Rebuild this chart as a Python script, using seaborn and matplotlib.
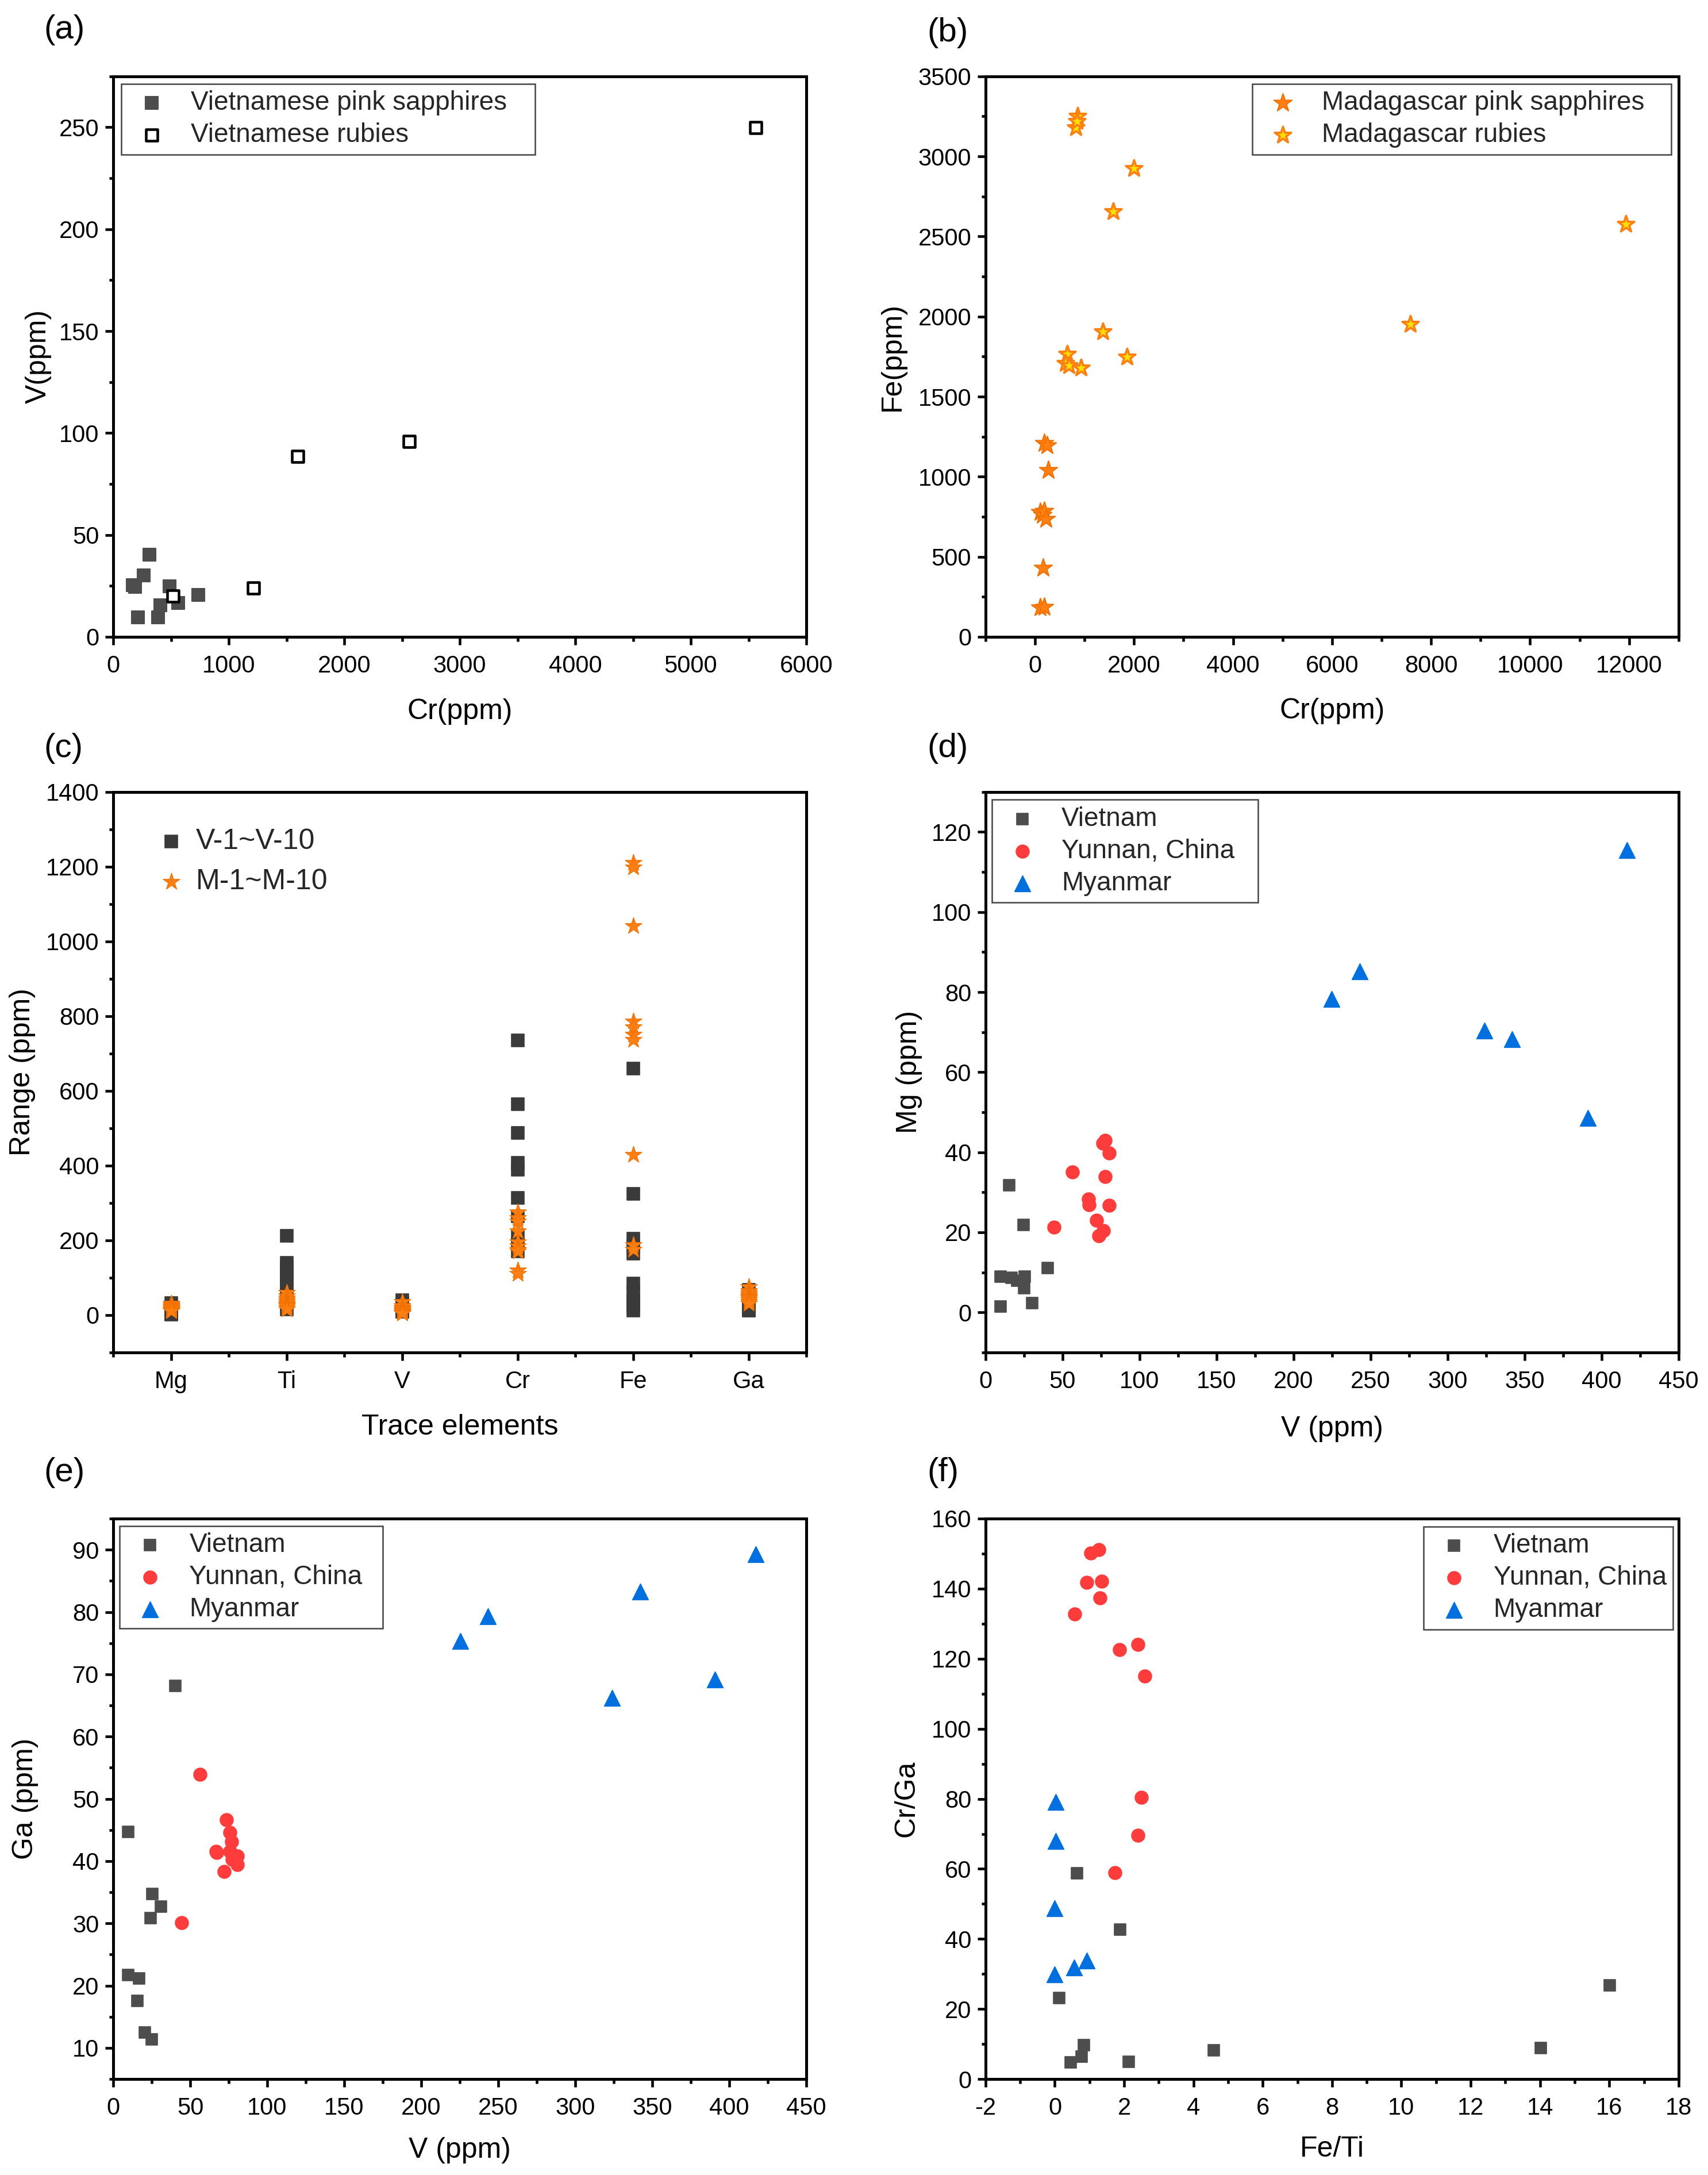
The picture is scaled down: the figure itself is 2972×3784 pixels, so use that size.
import matplotlib.pyplot as plt
import pandas as pd
import seaborn as sns
from matplotlib.ticker import MultipleLocator

# (a) Vietnamese samples: Cr vs V
a_pink_cr = [171, 190, 313, 265, 488, 213, 389, 408, 564, 735]
a_pink_v = [25.5, 24.5, 40.4, 30.3, 24.9, 9.6, 9.6, 15.5, 16.7, 20.5]
a_ruby_cr = [517, 1213, 1597, 2564, 5564]
a_ruby_v = [20.1, 24.0, 88.5, 95.8, 249.8]

# (b) Madagascar samples: Cr vs Fe
b_pink_cr = [110, 188, 166, 110, 150, 188, 221, 265, 188, 243]
b_pink_fe = [183, 188, 429, 780, 760, 786, 736, 1041, 1209, 1195]
b_ruby_cr = [862, 829, 851, 2000, 1580, 11934, 7580, 1370, 1856, 652, 620, 685, 928]
b_ruby_fe = [3250, 3181, 3221, 2925, 2656, 2578, 1951, 1905, 1748, 1766, 1708, 1693, 1679]

# (c) trace element ranges
elements = ["Mg", "Ti", "V", "Cr", "Fe", "Ga"]
c_vn = [
    [1.4, 2.4, 6.1, 8.9, 8.7, 8.0, 8.9, 11.1, 21.9, 31.7],
    [212, 140, 128, 115, 100, 85, 70, 50, 30, 15],
    [9.6, 9.6, 15.5, 16.7, 20.5, 24.5, 24.9, 25.5, 30.3, 40.4],
    [735, 564, 488, 408, 389, 313, 265, 213, 190, 171],
    [660, 325, 205, 185, 165, 85, 60, 40, 25, 12],
    [68.1, 44.7, 34.7, 32.7, 30.9, 21.7, 21.2, 17.6, 12.5, 11.4],
]
c_mg = [
    [30, 28, 25, 22, 20, 18, 15, 14, 12, 10],
    [60, 50, 45, 40, 35, 30, 28, 25, 20, 15],
    [35, 25, 20, 18, 15, 12, 10, 8, 6, 5],
    [275, 260, 250, 225, 195, 185, 175, 170, 120, 110],
    [1210, 1198, 1041, 786, 770, 750, 736, 429, 188, 175],
    [75, 65, 60, 55, 50, 48, 45, 40, 35, 30],
]

# (d) V vs Mg
d_vn_v = [9.6, 30.3, 24.9, 9.6, 16.7, 20.5, 25.5, 40.4, 24.5, 15.5]
d_vn_mg = [1.4, 2.4, 6.1, 8.9, 8.7, 8.0, 8.9, 11.1, 21.9, 31.7]
d_yn_v = [44.4, 56.5, 66.8, 67.1, 72.1, 73.5, 76.7, 76.3, 77.5, 77.8, 80.3, 80.3]
d_yn_mg = [21.3, 35.0, 28.3, 26.9, 23.0, 19.2, 20.4, 42.2, 43.0, 33.9, 39.8, 26.7]
d_mm_v = [224.8, 242.9, 323.9, 342.0, 391.0, 416.5]
d_mm_mg = [78.3, 85.2, 70.4, 68.3, 48.5, 115.4]

# (e) V vs Ga
e_vn_v = [9.6, 40.1, 25.2, 30.9, 24.1, 9.6, 16.7, 15.6, 20.6, 24.8]
e_vn_ga = [44.7, 68.1, 34.7, 32.7, 30.9, 21.7, 21.2, 17.6, 12.5, 11.4]
e_yn_v = [44.4, 56.4, 66.7, 67.1, 72.0, 73.5, 75.9, 77.0, 75.9, 77.4, 80.6, 80.6]
e_yn_ga = [30.1, 53.9, 41.6, 41.4, 38.3, 46.6, 44.6, 43.1, 41.6, 40.3, 40.8, 39.4]
e_mm_v = [225.3, 243.1, 324.0, 342.1, 390.7, 417.0]
e_mm_ga = [75.3, 79.3, 66.2, 83.3, 69.2, 89.3]

# (f) Fe/Ti vs Cr/Ga
f_vn_feti = [0.13, 0.46, 0.78, 0.84, 0.64, 1.89, 2.14, 4.59, 14.02, 16.01]
f_vn_crga = [23.2, 4.8, 6.4, 9.7, 58.8, 42.6, 4.9, 8.2, 8.8, 26.7]
f_yn_feti = [0.57, 0.92, 1.03, 1.27, 1.35, 1.30, 1.87, 2.39, 2.60, 2.50, 2.39, 1.73]
f_yn_crga = [132.8, 141.8, 150.2, 151.2, 142.1, 137.3, 122.6, 124.0, 115.1, 80.5, 69.6, 59.0]
f_mm_feti = [0.02, 0.02, 0.0, 0.0, 0.56, 0.92]
f_mm_crga = [79.1, 67.9, 48.7, 29.9, 31.9, 33.9]

DARK = "#4d4d4d"
RED = "#ff3c3c"
BLUE = "#0070e0"
ORANGE = "#ff8012"
YELLOW = "#ffe100"

sns.set_theme(style="ticks", context="paper")
plt.rcParams["font.family"] = ["Liberation Sans", "DejaVu Sans"]
plt.rcParams["axes.unicode_minus"] = False


def style_axis(ax, xlim, ylim, xmaj, xmin, ymaj, ymin):
    ax.set_xlim(*xlim)
    ax.set_ylim(*ylim)
    if xmaj is not None:
        ax.xaxis.set_major_locator(MultipleLocator(xmaj))
        ax.xaxis.set_minor_locator(MultipleLocator(xmin))
    ax.yaxis.set_major_locator(MultipleLocator(ymaj))
    ax.yaxis.set_minor_locator(MultipleLocator(ymin))
    ax.tick_params(which="both", direction="out", top=False, right=False,
                   width=1.1, colors="black", labelsize=10)
    ax.tick_params(which="major", length=3.4, pad=2.5)
    ax.tick_params(axis="x", which="major", pad=4)
    ax.tick_params(which="minor", length=1.8)
    for sp in ax.spines.values():
        sp.set_visible(True)
        sp.set_linewidth(1.2)
        sp.set_color("black")


def set_labels(ax, xlabel, ylabel, ycoord, xcoord):
    ax.set_xlabel(xlabel, fontsize=12, color="black")
    ax.set_ylabel(ylabel, fontsize=12, color="black")
    ax.xaxis.set_label_coords(0.5, xcoord)
    ax.yaxis.set_label_coords(ycoord, 0.5)


def add_legend(ax, anchor, loc="upper left", handles=None, labels=None, fontsize=11,
               frame=True, **kw):
    opts = dict(loc=loc, bbox_to_anchor=anchor, borderaxespad=0, fontsize=fontsize,
                frameon=frame, fancybox=False, framealpha=1, edgecolor="#444444",
                borderpad=0.25, labelspacing=0.26, handlelength=1.8, handletextpad=0.6)
    if len(anchor) == 4:
        opts["mode"] = "expand"
    opts.update(kw)
    if handles is not None:
        leg = ax.legend(handles, labels, **opts)
    else:
        leg = ax.legend(**opts)
    leg.get_frame().set_linewidth(0.6)
    return leg


fig = plt.figure(figsize=(2972 / 300, 3784 / 300), dpi=300)
col_x = [0.0663, 0.5770]
row_y = [0.7072, 0.3782, 0.0441]
aw, ah = 0.4058, 0.2577

ax_a = fig.add_axes([col_x[0], row_y[0], aw, ah])
ax_b = fig.add_axes([col_x[1], row_y[0], aw, ah])
ax_c = fig.add_axes([col_x[0], row_y[1], aw, ah])
ax_d = fig.add_axes([col_x[1], row_y[1], aw, ah])
ax_e = fig.add_axes([col_x[0], row_y[2], aw, ah])
ax_f = fig.add_axes([col_x[1], row_y[2], aw, ah])

# (a)
sns.scatterplot(x=a_pink_cr, y=a_pink_v, marker="s", s=27, color=DARK,
                edgecolor=DARK, linewidth=0.5, label="Vietnamese pink sapphires", ax=ax_a)
sns.scatterplot(x=a_ruby_cr, y=a_ruby_v, marker="s", s=22, color="white",
                edgecolor="black", linewidth=1.1, label="Vietnamese rubies", ax=ax_a)
style_axis(ax_a, (0, 6000), (0, 275), 1000, 500, 50, 25)
set_labels(ax_a, "Cr(ppm)", "V(ppm)", -0.089, -0.11)
add_legend(ax_a, (0.0116, 0.9867, 0.597, 0))

# (b)
sns.scatterplot(x=b_pink_cr, y=b_pink_fe, marker="*", s=62, color=ORANGE,
                edgecolor="#f07000", linewidth=0.5, label="Madagascar pink sapphires", ax=ax_b)
sns.scatterplot(x=b_ruby_cr, y=b_ruby_fe, marker="*", s=52, color=YELLOW,
                edgecolor=ORANGE, linewidth=0.9, label="Madagascar rubies", ax=ax_b)
style_axis(ax_b, (-1000, 13000), (0, 3500), 2000, 1000, 500, 250)
set_labels(ax_b, "Cr(ppm)", "Fe(ppm)", -0.115, -0.109)
add_legend(ax_b, (0.3847, 0.9867, 0.6045, 0))

# (c)
df_vn = pd.DataFrame({"element": [e for e, vals in zip(elements, c_vn) for _ in vals],
                      "range": [v for vals in c_vn for v in vals]})
df_mg = pd.DataFrame({"element": [e for e, vals in zip(elements, c_mg) for _ in vals],
                      "range": [v for vals in c_mg for v in vals]})
sns.stripplot(data=df_vn, x="element", y="range", order=elements, jitter=False,
              marker="s", size=5.2, color="#3a3a3a", edgecolor="#3a3a3a", linewidth=0.4,
              label="V-1~V-10", ax=ax_c)
sns.stripplot(data=df_mg, x="element", y="range", order=elements, jitter=False,
              marker="*", size=7.3, color=ORANGE, edgecolor="#f07000", linewidth=0.3,
              label="M-1~M-10", ax=ax_c)
style_axis(ax_c, (-0.5, 5.5), (-100, 1400), None, None, 200, 100)
ax_c.set_xticks(range(len(elements)))
ax_c.set_xticklabels(elements)
ax_c.set_xticks([i - 0.5 for i in range(len(elements) + 1)], minor=True)
set_labels(ax_c, "Trace elements", "Range (ppm)", -0.112, -0.11)
h, l = ax_c.get_legend_handles_labels()
uniq = dict(zip(l, h))
add_legend(ax_c, (0.0547, 0.945), handles=list(uniq.values()),
           labels=list(uniq.keys()), fontsize=12, frame=False,
           borderpad=0.2, labelspacing=0.48, handlelength=1.0, handletextpad=0.36)

# (d), (e), (f)
groups = ["Vietnam", "Yunnan, China", "Myanmar"]
markers = ["s", "o", "^"]
sizes = [25, 30, 44]
colors = [DARK, RED, BLUE]
panels = [
    (ax_d, [(d_vn_v, d_vn_mg), (d_yn_v, d_yn_mg), (d_mm_v, d_mm_mg)]),
    (ax_e, [(e_vn_v, e_vn_ga), (e_yn_v, e_yn_ga), (e_mm_v, e_mm_ga)]),
    (ax_f, [(f_vn_feti, f_vn_crga), (f_yn_feti, f_yn_crga), (f_mm_feti, f_mm_crga)]),
]
for ax, series in panels:
    for (xs, ys), name, mk, sz, col in zip(series, groups, markers, sizes, colors):
        sns.scatterplot(x=xs, y=ys, marker=mk, s=sz, color=col, edgecolor=col,
                        linewidth=0.4, label=name, ax=ax)

style_axis(ax_d, (0, 450), (-10, 130), 50, 25, 20, 10)
set_labels(ax_d, "V (ppm)", "Mg (ppm)", -0.091, -0.113)
add_legend(ax_d, (0.0091, 0.986, 0.384, 0))

style_axis(ax_e, (0, 450), (5, 95), 50, 25, 10, 5)
set_labels(ax_e, "V (ppm)", "Ga (ppm)", -0.108, -0.1035)
add_legend(ax_e, (0.0091, 0.987, 0.38, 0))

style_axis(ax_f, (-2, 18), (0, 160), 2, 1, 20, 10)
set_labels(ax_f, "Fe/Ti", "Cr/Ga", -0.095, -0.101)
add_legend(ax_f, (0.992, 0.9857), "upper right")

# panel letters
for (px, py), letter in zip([(0.0256, 0.9863), (0.543, 0.985), (0.0256, 0.656),
                             (0.543, 0.656), (0.0256, 0.323), (0.543, 0.323)], "abcdef"):
    fig.text(px, py, f"({letter})", fontsize=14, va="center", ha="left", color="black")

fig.savefig("out.png", dpi=300)
plt.close(fig)
